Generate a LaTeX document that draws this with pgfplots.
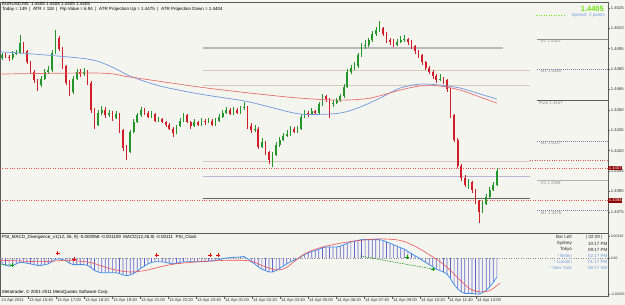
\documentclass[border=0pt]{standalone}
\usepackage{pgfplots}
\pgfplotsset{compat=1.18}
\usepackage{pgfplotstable}
\usepackage{fontspec}
\setmainfont{Liberation Sans}
\definecolor{bg}{RGB}{245,245,240}
\definecolor{upc}{RGB}{34,150,40}
\definecolor{dnc}{RGB}{210,30,40}
\definecolor{mablue}{RGB}{110,150,225}
\definecolor{mared}{RGB}{232,110,110}
\definecolor{histc}{RGB}{95,95,205}
\definecolor{macdl}{RGB}{70,145,235}
\definecolor{sigc}{RGB}{240,80,80}
\definecolor{lvl}{RGB}{140,140,140}
\definecolor{lvlb}{RGB}{120,120,175}
\definecolor{tanl}{RGB}{215,200,185}
\definecolor{lav}{RGB}{190,180,215}
\definecolor{limeg}{RGB}{110,225,20}
\definecolor{clockb}{RGB}{110,155,220}
\definecolor{axc}{RGB}{90,90,90}
\definecolor{alertc}{RGB}{225,80,80}

\pgfplotstableread{
i o h l c
0 1.4488 1.4492 1.4487 1.4490
3 1.4488 1.4493 1.4487 1.4491
4 1.4491 1.4494 1.4490 1.4492
5 1.4492 1.4505 1.4491 1.4499
11 1.4468 1.4475 1.4467 1.4473
12 1.4473 1.4480 1.4472 1.4478
13 1.4478 1.4482 1.4476 1.4479
14 1.4479 1.4494 1.4478 1.4492
15 1.4492 1.4509 1.4491 1.4503
20 1.4463 1.4475 1.4462 1.4473
21 1.4473 1.4480 1.4472 1.4478
23 1.4476 1.4481 1.4475 1.4478
27 1.4439 1.4450 1.4438 1.4448
28 1.4448 1.4453 1.4446 1.4450
30 1.4446 1.4450 1.4445 1.4448
32 1.4444 1.4449 1.4443 1.4447
36 1.4419 1.4435 1.4418 1.4434
37 1.4434 1.4443 1.4433 1.4441
38 1.4441 1.4448 1.4440 1.4446
39 1.4446 1.4452 1.4445 1.4450
42 1.4445 1.4449 1.4444 1.4447
44 1.4442 1.4445 1.4441 1.4443
49 1.4433 1.4439 1.4432 1.4438
50 1.4438 1.4444 1.4437 1.4442
51 1.4442 1.4448 1.4441 1.4446
54 1.4438 1.4443 1.4437 1.4441
56 1.4439 1.4444 1.4438 1.4442
58 1.4441 1.4444 1.4440 1.4442
60 1.4439 1.4444 1.4438 1.4442
61 1.4442 1.4447 1.4441 1.4445
62 1.4445 1.4450 1.4444 1.4448
63 1.4448 1.4452 1.4447 1.4450
65 1.4447 1.4452 1.4446 1.4450
67 1.4448 1.4453 1.4447 1.4451
68 1.4451 1.4456 1.4450 1.4452
71 1.4435 1.4439 1.4434 1.4436
73 1.4423 1.4429 1.4422 1.4426
76 1.4413 1.4419 1.4408 1.4417
77 1.4417 1.4426 1.4416 1.4424
78 1.4424 1.4430 1.4423 1.4428
79 1.4428 1.4433 1.4427 1.4431
80 1.4431 1.4435 1.4430 1.4432
81 1.4432 1.4438 1.4431 1.4436
83 1.4434 1.4438 1.4433 1.4436
84 1.4436 1.4447 1.4435 1.4445
85 1.4445 1.4450 1.4444 1.4448
87 1.4447 1.4451 1.4446 1.4449
89 1.4448 1.4456 1.4447 1.4454
90 1.4454 1.4462 1.4453 1.4460
93 1.4454 1.4457 1.4452 1.4455
94 1.4455 1.4459 1.4454 1.4457
95 1.4457 1.4462 1.4456 1.4460
96 1.4460 1.4469 1.4459 1.4467
97 1.4467 1.4480 1.4466 1.4478
98 1.4478 1.4483 1.4476 1.4481
99 1.4481 1.4485 1.4479 1.4482
100 1.4482 1.4492 1.4481 1.4490
101 1.4490 1.4499 1.4489 1.4497
102 1.4497 1.4501 1.4495 1.4498
103 1.4498 1.4503 1.4496 1.4501
104 1.4501 1.4508 1.4500 1.4506
105 1.4506 1.4511 1.4504 1.4509
106 1.4509 1.4515 1.4507 1.4510
111 1.4498 1.4502 1.4497 1.4500
112 1.4500 1.4504 1.4499 1.4501
113 1.4501 1.4505 1.4500 1.4502
123 1.4472 1.4476 1.4471 1.4473
131 1.4395 1.4399 1.4392 1.4397
135 1.4375 1.4383 1.4374 1.4381
136 1.4381 1.4388 1.4380 1.4386
137 1.4386 1.4393 1.4385 1.4391
138 1.4391 1.4397 1.4390 1.4395
139 1.4395 1.4407 1.4394 1.4405
}\tabup

\pgfplotstableread{
i o h l c
1 1.4490 1.4492 1.4488 1.4489
2 1.4489 1.4490 1.4486 1.4488
6 1.4499 1.4500 1.4492 1.4493
7 1.4493 1.4494 1.4484 1.4485
8 1.4485 1.4486 1.4477 1.4478
9 1.4478 1.4479 1.4470 1.4472
10 1.4472 1.4473 1.4464 1.4468
16 1.4503 1.4504 1.4493 1.4495
17 1.4495 1.4496 1.4480 1.4482
18 1.4482 1.4483 1.4468 1.4470
19 1.4470 1.4472 1.4460 1.4463
22 1.4478 1.4480 1.4474 1.4476
24 1.4478 1.4479 1.4468 1.4470
25 1.4470 1.4471 1.4448 1.4450
26 1.4450 1.4451 1.4436 1.4439
29 1.4450 1.4452 1.4444 1.4446
31 1.4448 1.4449 1.4442 1.4444
33 1.4447 1.4448 1.4433 1.4435
34 1.4435 1.4436 1.4420 1.4422
35 1.4422 1.4424 1.4413 1.4419
40 1.4450 1.4451 1.4446 1.4448
41 1.4448 1.4449 1.4444 1.4445
43 1.4447 1.4448 1.4441 1.4442
45 1.4443 1.4444 1.4440 1.4441
46 1.4441 1.4442 1.4437 1.4439
47 1.4439 1.4440 1.4435 1.4436
48 1.4436 1.4437 1.4430 1.4433
52 1.4446 1.4447 1.4440 1.4441
53 1.4441 1.4442 1.4436 1.4438
55 1.4441 1.4442 1.4438 1.4439
57 1.4442 1.4443 1.4439 1.4441
59 1.4442 1.4443 1.4438 1.4439
64 1.4450 1.4451 1.4446 1.4447
66 1.4450 1.4451 1.4447 1.4448
69 1.4452 1.4453 1.4436 1.4438
70 1.4438 1.4440 1.4433 1.4435
72 1.4436 1.4437 1.4421 1.4423
74 1.4426 1.4427 1.4417 1.4419
75 1.4419 1.4420 1.4410 1.4413
82 1.4436 1.4437 1.4433 1.4434
86 1.4448 1.4449 1.4445 1.4447
88 1.4449 1.4450 1.4447 1.4448
91 1.4460 1.4461 1.4456 1.4458
92 1.4458 1.4459 1.4444 1.4454
107 1.4510 1.4511 1.4504 1.4506
108 1.4506 1.4507 1.4499 1.4501
109 1.4501 1.4503 1.4498 1.4500
110 1.4500 1.4502 1.4496 1.4498
114 1.4502 1.4503 1.4498 1.4500
115 1.4500 1.4501 1.4495 1.4497
116 1.4497 1.4498 1.4491 1.4493
117 1.4493 1.4494 1.4488 1.4490
118 1.4490 1.4491 1.4483 1.4485
119 1.4485 1.4486 1.4479 1.4481
120 1.4481 1.4482 1.4476 1.4478
121 1.4478 1.4479 1.4473 1.4475
122 1.4475 1.4476 1.4470 1.4472
124 1.4473 1.4474 1.4469 1.4472
125 1.4472 1.4473 1.4463 1.4465
126 1.4465 1.4466 1.4444 1.4446
127 1.4446 1.4447 1.4426 1.4428
128 1.4428 1.4429 1.4407 1.4409
129 1.4409 1.4410 1.4398 1.4400
130 1.4400 1.4402 1.4393 1.4395
132 1.4397 1.4398 1.4389 1.4391
133 1.4391 1.4392 1.4381 1.4383
134 1.4383 1.4384 1.4367 1.4375
}\tabdn

\pgfplotstableread{
i m
0 -4
1 -5
2 -5.5
3 -5
4 -4
5 -3
6 -3
7 -3.5
8 -4
9 -4.5
10 -5
11 -5
12 -4.5
13 -4
14 -2.5
15 -1
16 -0.5
17 -1
18 -2
19 -3.5
20 -4.5
21 -4.5
22 -4.5
23 -4.5
24 -5
25 -6.5
26 -8.5
27 -9.5
28 -10
29 -10
30 -10
31 -10
32 -10
33 -10.5
34 -11.5
35 -12
36 -11.5
37 -10.5
38 -9
39 -7
40 -5.5
41 -4
42 -3
43 -2.5
44 -2.5
45 -2.5
46 -3
47 -3.5
48 -4
49 -3.5
50 -3
51 -2.5
52 -2.5
53 -2.5
54 -2.5
55 -2.5
56 -2.5
57 -2.5
58 -2
59 -2
60 -1.5
61 -1
62 -0.5
63 0
64 0.2
65 0.5
66 0.5
67 0.8
68 1
69 -0.5
70 -2.5
71 -4
72 -6
73 -7.5
74 -8.5
75 -9.5
76 -9.5
77 -8.5
78 -7
79 -5.5
80 -4
81 -2.5
82 -1.5
83 -0.5
84 1
85 2.5
86 3.5
87 4.5
88 5
89 6
90 7
91 7.5
92 7.5
93 7.5
94 7.5
95 8
96 9
97 10
98 11
99 11.5
100 12
101 12.5
102 12.5
103 12.5
104 12.5
105 12.5
106 12.5
107 12
108 11
109 10
110 9
111 8
112 7
113 6
114 4.5
115 3
116 1.5
117 0.2
118 -1.5
119 -3
120 -4.5
121 -6
122 -7.5
123 -8.5
124 -9.5
125 -11
126 -14
127 -18
128 -21
129 -23
130 -24
131 -24
132 -24
133 -24.5
134 -24.5
135 -23.5
136 -22
137 -19.5
138 -16.5
139 -13
}\tabmacd

\pgfplotsset{mtaxis/.style={
  scale only axis, width=608pt, xmin=-0.5618, xmax=170.22,
  clip mode=individual,
  axis line style={draw=axc, line width=0.7pt},
  xtick=\empty, ytick pos=right, yticklabel pos=right,
  tick align=outside, major tick length=2pt,
  tick style={draw=axc, line width=0.4pt},
  yticklabel style={font=\fontsize{4.2}{5}\selectfont, text=black!80, inner sep=0.6pt},
}}

\begin{document}
\begin{tikzpicture}[x=1pt,y=1pt,font=\fontsize{4.5}{5.2}\selectfont]
\fill[bg] (0,0) rectangle (625,-305);
\path[use as bounding box] (0,0) rectangle (625,-305);

\begin{axis}[mtaxis, at={(0pt,-2pt)}, anchor=north west, height=231pt,
  ymin=1.43594, ymax=1.45293,
  ytick={1.4375,1.4390,1.4405,1.4420,1.4435,1.4450,1.4465,1.4480,1.4495,1.4510,1.4525},
  yticklabels={1.4375,1.4390,1.4405,1.4420,1.4435,1.4450,1.4465,1.4480,1.4495,1.4510,1.4525}]
% session levels
\addplot[black!28, line width=1.4pt] coordinates {(56.5,1.44955) (140.7,1.44955)};
\addplot[tanl, line width=0.6pt] coordinates {(56.5,1.44793) (148.3,1.44793)};
\addplot[tanl, line width=0.6pt] coordinates {(56.5,1.44682) (148.3,1.44682)};
\addplot[tanl, line width=0.6pt] coordinates {(56.5,1.44121) (148.3,1.44121)};
\addplot[lav, line width=0.6pt] coordinates {(56.5,1.44011) (148.3,1.44011)};
\addplot[black!60, line width=0.7pt] coordinates {(56.5,1.43849) (148.3,1.43849)};
% red alert lines
\addplot[alertc, dash pattern=on 1pt off 1.4pt, line width=0.4pt] coordinates {(-0.56,1.4407) (170.22,1.4407)};
\addplot[alertc, dash pattern=on 1pt off 1.4pt, line width=0.4pt] coordinates {(-0.56,1.43834) (170.22,1.43834)};
\addplot[alertc, dash pattern=on 1pt off 1.4pt, line width=0.4pt] coordinates {(148.3,1.4413) (170.22,1.4413)};
% pivot levels
\addplot[lvl, line width=0.7pt] coordinates {(150.3,1.4502) (170.22,1.4502)};
\addplot[lvlb, dash pattern=on 1pt off 1pt, line width=0.5pt] coordinates {(150.3,1.4480) (170.22,1.4480)};
\addplot[axc, line width=0.9pt] coordinates {(150.3,1.4457) (170.22,1.4457)};
\addplot[lvlb, dash pattern=on 1pt off 1pt, line width=0.5pt] coordinates {(150.3,1.4427) (170.22,1.4427)};
\addplot[black!30, line width=1.2pt] coordinates {(150.3,1.4398) (170.22,1.4398)};
\addplot[lvlb, dash pattern=on 1pt off 1pt, line width=0.5pt] coordinates {(150.3,1.4376) (170.22,1.4376)};
% candles: wicks and bodies
\addplot[draw=none, mark=none, error bars/.cd, y dir=plus, y explicit, error mark=none,
  error bar style={draw=upc, line width=0.5pt}]
  table[x=i, y=l, y error plus expr=\thisrow{h}-\thisrow{l}] {\tabup};
\addplot[draw=none, mark=none, error bars/.cd, y dir=plus, y explicit, error mark=none,
  error bar style={draw=dnc, line width=0.5pt}]
  table[x=i, y=l, y error plus expr=\thisrow{h}-\thisrow{l}] {\tabdn};
\addplot[draw=none, mark=none, error bars/.cd, y dir=plus, y explicit, error mark=none,
  error bar style={draw=upc, line width=1.7pt}]
  table[x=i, y=o, y error plus expr=\thisrow{c}-\thisrow{o}] {\tabup};
\addplot[draw=none, mark=none, error bars/.cd, y dir=plus, y explicit, error mark=none,
  error bar style={draw=dnc, line width=1.7pt}]
  table[x=i, y=c, y error plus expr=\thisrow{o}-\thisrow{c}] {\tabdn};
% moving averages
\addplot[mablue, line width=0.7pt, smooth] coordinates {
(-0.56,1.44925) (5.06,1.44918) (23.9,1.44874) (30.3,1.44822) (36.0,1.44748) (44.4,1.44675)
(55.6,1.44616) (68.3,1.44564) (75.3,1.44520) (83.7,1.44469) (92.1,1.44469) (96.3,1.44483)
(100.6,1.44520) (106.2,1.44586) (111.8,1.44660) (117.4,1.44689) (123.0,1.44682) (128.7,1.44660)
(134.3,1.44616) (139.0,1.44579)};
\addplot[mared, line width=0.7pt, smooth] coordinates {
(-0.56,1.44763) (27.5,1.44770) (36.0,1.44741) (55.6,1.44667) (69.7,1.44623) (83.7,1.44586)
(94.9,1.44571) (103.4,1.44586) (111.8,1.44645) (117.4,1.44675) (123.0,1.44675) (128.7,1.44645)
(134.3,1.44594) (139.0,1.44549)};
% level labels
\begin{scope}[every node/.style={anchor=north west, inner sep=0.4pt, text=lvl, font=\fontsize{4.3}{5}\selectfont}]
\node at (axis cs:151.2,1.4502) {R1 1.4502};
\node at (axis cs:151.2,1.4480) {M3 1.4480};
\node at (axis cs:150.6,1.4457) {Pivot 1.4457};
\node at (axis cs:151.2,1.4427) {M2 1.4427};
\node at (axis cs:151.2,1.4398) {S1 1.4398};
\node at (axis cs:151.2,1.4376) {M1 1.4376};
\end{scope}
\node[anchor=west, fill=red!55!black, text=white, inner sep=0.7pt, font=\fontsize{4.2}{5}\selectfont] at (axis cs:170.22,1.4407) {1.4407};
\node[anchor=west, fill=red!55!black, text=white, inner sep=0.7pt, font=\fontsize{4.2}{5}\selectfont] at (axis cs:170.22,1.43834) {1.4384};
\end{axis}

\begin{axis}[mtaxis, at={(0pt,-233pt)}, anchor=north west, height=63pt,
  ymin=-25.8, ymax=17,
  ytick={14.9,0,-24.5}, yticklabels={0.00195,0.00,-0.00258},
  yticklabel style={font=\fontsize{3.5}{4}\selectfont}]
\addplot[black!45, dotted, line width=0.4pt] coordinates {(-0.56,0) (170.22,0)};
\addplot[ybar, bar width=0.7pt, fill=histc, draw=none] table[x=i, y=m] {\tabmacd};
\addplot[macdl, line width=0.8pt] table[x=i, y=m] {\tabmacd};
\addplot[sigc, line width=0.6pt, smooth] coordinates {
(-0.56,-1.5) (5.06,-2) (10.67,-2.5) (14.9,-2) (19.1,-1.5) (24.7,-3) (27.5,-5) (31.7,-8)
(36,-9.5) (40.2,-8.5) (44.4,-6) (48.6,-4) (55.6,-2.5) (64,-1.5) (69.7,-2) (73,-5)
(76.7,-8) (79.5,-7) (82.3,-2) (85.1,3) (89.3,7) (94.9,10) (100.6,12) (106.2,13)
(111.8,12) (116,8) (120.2,2) (124.4,-5) (128.7,-15) (131.5,-21) (134.3,-23) (137.1,-22) (139.9,-17)};
\addplot[green!55!black, dash pattern=on 1.5pt off 1pt, line width=0.5pt] coordinates {(100.6,1.4) (121.1,-7.5)};
\addplot[green!55!black, dash pattern=on 1.5pt off 1pt, line width=0.5pt] coordinates {(-0.56,-4.2) (2.8,-4.8)};
\addplot[only marks, mark=+, mark size=1.8pt, red!90!black, line width=0.8pt] coordinates {
(15.7,3.4) (20.2,-0.7) (43.5,2.0) (58.4,2.0) (60.7,2.0)};
\addplot[only marks, mark=+, mark size=1.8pt, green!60!black, line width=0.8pt] coordinates {
(2.8,-4.8) (113.8,0.7) (121.1,-7.5)};
\end{axis}

% header texts
\node[anchor=west, inner sep=0] at (2,-4.3) {EURUSD,M5\ \ 1.4405 1.4408 1.4405 1.4405};
\node[anchor=west, inner sep=0] at (2,-9.8) {Today = 149\ \ |\ \ ATR = 118\ \ |\ \ Pip Value = 6.94\ \ |\ \ ATR Projection Up = 1.4475\ \ |\ \ ATR Projection Down = 1.4404};
\node[anchor=east, inner sep=0, text=limeg, font=\fontsize{7.5}{8}\selectfont\bfseries] at (604,-8.5) {1.4405};
\draw[limeg, dotted, line width=0.5pt] (536,-15.7) -- (564,-15.7);
\node[anchor=east, inner sep=0, text=clockb] at (605,-15.3) {Spread: 2 points};

% indicator texts
\node[anchor=west, inner sep=0] at (2,-237.8) {PSI\_MACD\_Divergence\_v1(12, 26, 9) -0.000958 -0.001109\ \ MACD(12,26,9) -0.00111\ \ PSI\_Clock};
\node[anchor=west, inner sep=0] at (2,-292.6) {Metatrader, © 2001-2011 MetaQuotes Software Corp.};
\begin{scope}[every node/.style={inner sep=0}]
\node[anchor=east, text=black!85] at (572,-237) {Bar Left};
\node[anchor=west, text=black!85] at (586,-237) {|\ 02:29 |};
\node[anchor=east, text=black!85] at (572,-243.5) {Sydney};
\node[anchor=west, text=black!85] at (588,-243.5) {10:17 PM};
\node[anchor=east, text=black!85] at (572,-249.5) {Tokyo};
\node[anchor=west, text=black!85] at (588,-249.5) {09:17 PM};
\node[anchor=east, text=clockb] at (572,-255.5) {* Berlin};
\node[anchor=west, text=clockb] at (588,-255.5) {02:17 PM};
\node[anchor=east, text=clockb] at (572,-261.5) {* London};
\node[anchor=west, text=clockb] at (588,-261.5) {01:17 PM};
\node[anchor=east, text=clockb] at (572,-267.5) {* New York};
\node[anchor=west, text=clockb] at (588,-267.5) {08:17 AM};
\end{scope}

% time axis labels
\begin{scope}[every node/.style={anchor=west, inner sep=0, text=black!80, font=\fontsize{4.2}{5}\selectfont}]
\node at (1,-300.5) {13 Apr 2011};
\foreach \lab [count=\k from 0] in {13 Apr 15:40,13 Apr 17:00,13 Apr 18:20,13 Apr 19:40,13 Apr 21:00,13 Apr 22:20,13 Apr 23:40,14 Apr 01:00,14 Apr 02:20,14 Apr 03:40,14 Apr 05:00,14 Apr 06:20,14 Apr 07:40,14 Apr 09:00,14 Apr 10:20,14 Apr 11:40,14 Apr 13:00}{
  \draw[axc, line width=0.4pt] ({28+28*\k},-296) -- ({28+28*\k},-298.5);
  \node at ({28.8+28*\k},-300.5) {\lab};
}
\end{scope}
\end{tikzpicture}
\end{document}
